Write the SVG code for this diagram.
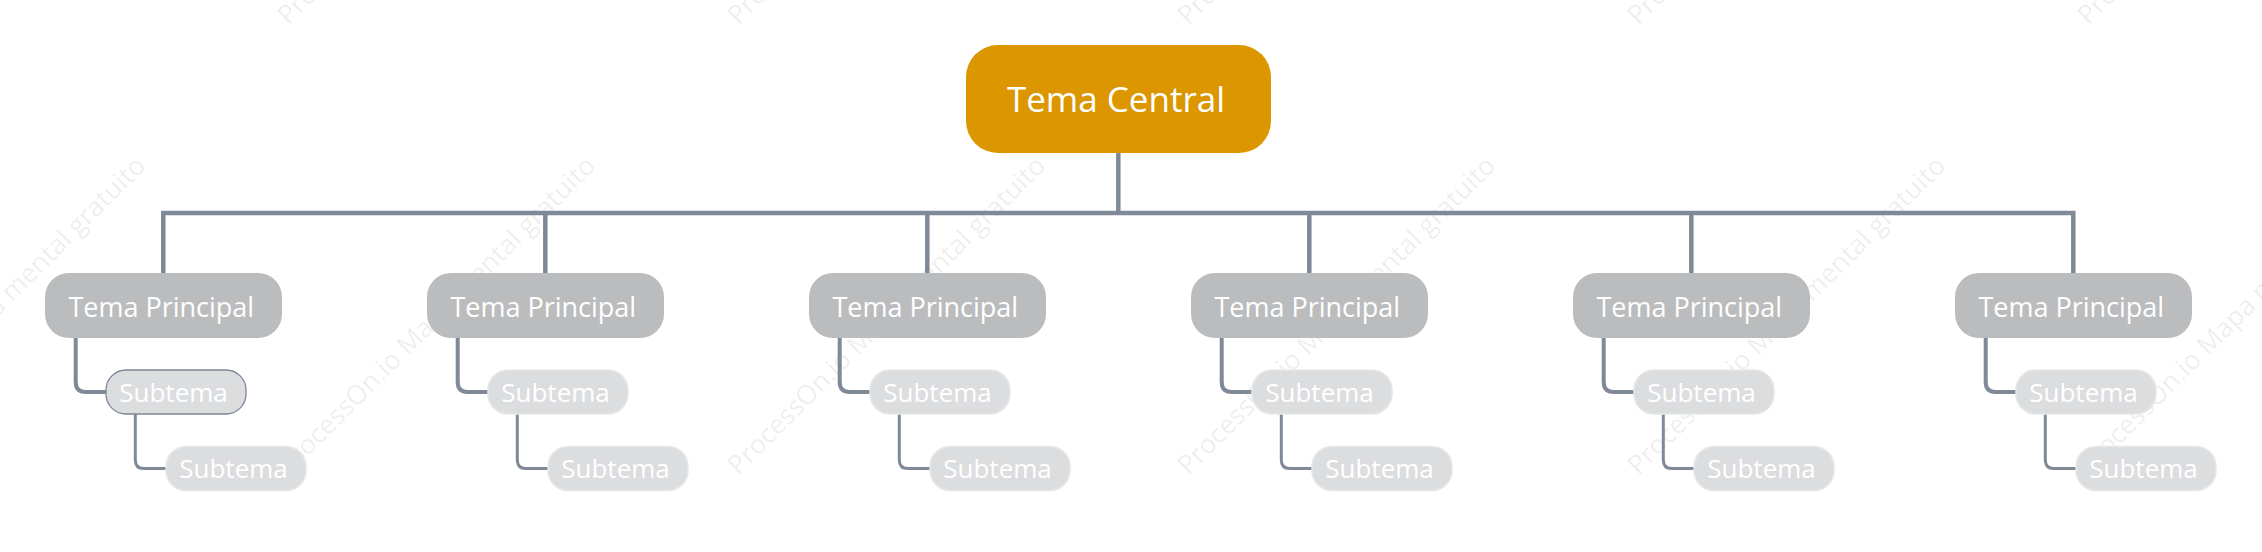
<svg xmlns="http://www.w3.org/2000/svg" width="2262" height="552" viewBox="0 0 2262 552">
<style>
.bg{fill:#ffffff}
.conn{fill:none;stroke:#7f8998;stroke-linejoin:miter;stroke-linecap:butt}
.c0{stroke-width:4.5}
.c1{stroke-width:4}
.c2{stroke-width:3}
.central rect{fill:#db9600}
.central text{font-family:"Open Sans","Noto Sans",sans-serif;font-size:35px;fill:#ffffff;text-anchor:middle}
.main rect{fill:#bbbcbe}
.main text{font-family:"Open Sans","Noto Sans",sans-serif;font-size:27px;fill:#ffffff;text-anchor:middle}
.sub rect{fill:#dcdddf;stroke:#e6e7e8;stroke-width:1.5}
.sub text{font-family:"Open Sans","Noto Sans",sans-serif;font-size:26px;fill:#ffffff;text-anchor:middle}
.sub.sel rect{stroke:#7d8696;stroke-width:1.3}
.wm text{font-family:"Open Sans","Noto Sans",sans-serif;font-size:26.5px;fill:#000000;fill-opacity:0.085}
</style>
<rect class="bg" x="0" y="0" width="2262" height="552"/>
<g id="watermark" class="wm">
<text x="-161.5" y="476" transform="rotate(-45 -161.5 476)">ProcessOn.io Mapa mental gratuito</text>
<text x="288.5" y="476" transform="rotate(-45 288.5 476)">ProcessOn.io Mapa mental gratuito</text>
<text x="738.5" y="476" transform="rotate(-45 738.5 476)">ProcessOn.io Mapa mental gratuito</text>
<text x="1188.5" y="476" transform="rotate(-45 1188.5 476)">ProcessOn.io Mapa mental gratuito</text>
<text x="1638.5" y="476" transform="rotate(-45 1638.5 476)">ProcessOn.io Mapa mental gratuito</text>
<text x="2088.5" y="476" transform="rotate(-45 2088.5 476)">ProcessOn.io Mapa mental gratuito</text>
<text x="288.5" y="26" transform="rotate(-45 288.5 26)">ProcessOn.io Mapa mental gratuito</text>
<text x="738.5" y="26" transform="rotate(-45 738.5 26)">ProcessOn.io Mapa mental gratuito</text>
<text x="1188.5" y="26" transform="rotate(-45 1188.5 26)">ProcessOn.io Mapa mental gratuito</text>
<text x="1638.5" y="26" transform="rotate(-45 1638.5 26)">ProcessOn.io Mapa mental gratuito</text>
<text x="2088.5" y="26" transform="rotate(-45 2088.5 26)">ProcessOn.io Mapa mental gratuito</text>
</g>
<g id="connectors">
<path class="conn c0" d="M1118.3 153 V213"/>
<path class="conn c0" d="M163.3 273 V213 H2073.3 V273"/>
<path class="conn c0" d="M545.3 213 V273"/>
<path class="conn c0" d="M927.3 213 V273"/>
<path class="conn c0" d="M1309.3 213 V273"/>
<path class="conn c0" d="M1691.3 213 V273"/>
<path class="conn c1" d="M75.7 338 V382 Q75.7 392 85.7 392 H106"/>
<path class="conn c2" d="M135.3 414 V460 Q135.3 468.5 143.8 468.5 H166"/>
<path class="conn c1" d="M457.7 338 V382 Q457.7 392 467.7 392 H488"/>
<path class="conn c2" d="M517.3 414 V460 Q517.3 468.5 525.8 468.5 H548"/>
<path class="conn c1" d="M839.7 338 V382 Q839.7 392 849.7 392 H870"/>
<path class="conn c2" d="M899.3 414 V460 Q899.3 468.5 907.8 468.5 H930"/>
<path class="conn c1" d="M1221.7 338 V382 Q1221.7 392 1231.7 392 H1252"/>
<path class="conn c2" d="M1281.3 414 V460 Q1281.3 468.5 1289.8 468.5 H1312"/>
<path class="conn c1" d="M1603.7 338 V382 Q1603.7 392 1613.7 392 H1634"/>
<path class="conn c2" d="M1663.3 414 V460 Q1663.3 468.5 1671.8 468.5 H1694"/>
<path class="conn c1" d="M1985.7 338 V382 Q1985.7 392 1995.7 392 H2016"/>
<path class="conn c2" d="M2045.3 414 V460 Q2045.3 468.5 2053.8 468.5 H2076"/>
</g>
<g id="central" class="central"><rect x="966" y="45" width="305" height="108" rx="32"/><text x="1116" y="112">Tema Central</text></g>

<g id="main1" class="main"><rect x="45" y="273" width="237" height="65" rx="24"/><text x="161.3" y="316.5">Tema Principal</text></g>
<g id="sub1a" class="sub sel"><rect x="106" y="370" width="140" height="44" rx="20"/><text x="173.5" y="401.5">Subtema</text></g>
<g id="sub1b" class="sub"><rect x="166" y="446.5" width="140" height="44" rx="20"/><text x="233.5" y="478">Subtema</text></g>

<g id="main2" class="main"><rect x="427" y="273" width="237" height="65" rx="24"/><text x="543.3" y="316.5">Tema Principal</text></g>
<g id="sub2a" class="sub"><rect x="488" y="370" width="140" height="44" rx="20"/><text x="555.5" y="401.5">Subtema</text></g>
<g id="sub2b" class="sub"><rect x="548" y="446.5" width="140" height="44" rx="20"/><text x="615.5" y="478">Subtema</text></g>

<g id="main3" class="main"><rect x="809" y="273" width="237" height="65" rx="24"/><text x="925.3" y="316.5">Tema Principal</text></g>
<g id="sub3a" class="sub"><rect x="870" y="370" width="140" height="44" rx="20"/><text x="937.5" y="401.5">Subtema</text></g>
<g id="sub3b" class="sub"><rect x="930" y="446.5" width="140" height="44" rx="20"/><text x="997.5" y="478">Subtema</text></g>

<g id="main4" class="main"><rect x="1191" y="273" width="237" height="65" rx="24"/><text x="1307.3" y="316.5">Tema Principal</text></g>
<g id="sub4a" class="sub"><rect x="1252" y="370" width="140" height="44" rx="20"/><text x="1319.5" y="401.5">Subtema</text></g>
<g id="sub4b" class="sub"><rect x="1312" y="446.5" width="140" height="44" rx="20"/><text x="1379.5" y="478">Subtema</text></g>

<g id="main5" class="main"><rect x="1573" y="273" width="237" height="65" rx="24"/><text x="1689.3" y="316.5">Tema Principal</text></g>
<g id="sub5a" class="sub"><rect x="1634" y="370" width="140" height="44" rx="20"/><text x="1701.5" y="401.5">Subtema</text></g>
<g id="sub5b" class="sub"><rect x="1694" y="446.5" width="140" height="44" rx="20"/><text x="1761.5" y="478">Subtema</text></g>

<g id="main6" class="main"><rect x="1955" y="273" width="237" height="65" rx="24"/><text x="2071.3" y="316.5">Tema Principal</text></g>
<g id="sub6a" class="sub"><rect x="2016" y="370" width="140" height="44" rx="20"/><text x="2083.5" y="401.5">Subtema</text></g>
<g id="sub6b" class="sub"><rect x="2076" y="446.5" width="140" height="44" rx="20"/><text x="2143.5" y="478">Subtema</text></g>
</svg>
